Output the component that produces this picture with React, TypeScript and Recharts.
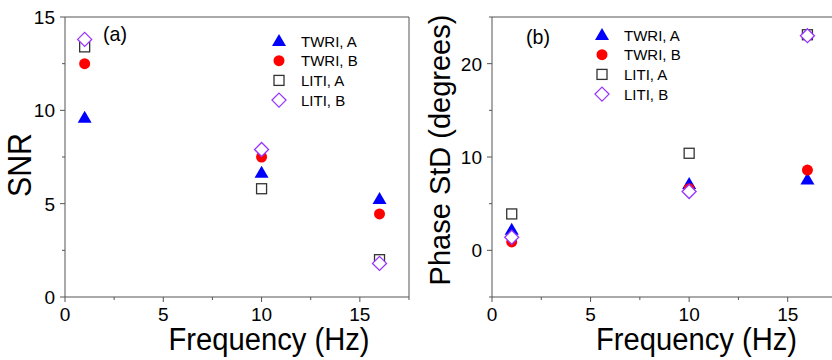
import { ScatterChart, Scatter, XAxis, YAxis, Label, Legend } from 'recharts';

const FONT = '"Liberation Sans", Arial, sans-serif';
const AXIS = '#555';

// measured frequencies (Hz)
const freqs = [1, 10, 16];

// panel (a): SNR
const snrTwriA = [9.6, 6.65, 5.25];
const snrTwriB = [12.5, 7.5, 4.45];
const snrLitiA = [13.4, 5.8, 2.0];
const snrLitiB = [13.8, 7.9, 1.8];

// panel (b): phase standard deviation (degrees)
const phaseTwriA = [2.2, 7.1, 7.6];
const phaseTwriB = [0.9, 6.6, 8.6];
const phaseLitiA = [3.9, 10.4, 23.1];
const phaseLitiB = [1.4, 6.3, 23.0];

const seriesNames = ['TWRI, A', 'TWRI, B', 'LITI, A', 'LITI, B'];

const freqTicks = [0, 2.5, 5, 7.5, 10, 12.5, 15, 17.5];
const freqLabels = [0, 5, 10, 15];
const snrTicks = [0, 2.5, 5, 7.5, 10, 12.5, 15];
const snrLabels = [0, 5, 10, 15];
const phaseTicks = [-5, 0, 5, 10, 15, 20, 25];
const phaseLabels = [0, 10, 20];

const toPoints = (ys: number[]) => freqs.map((f, i) => ({ f, v: ys[i] }));

// marker shapes
const Triangle = ({ cx, cy }: any) => (
    <polygon points={`${cx},${cy - 7} ${cx - 7},${cy + 5} ${cx + 7},${cy + 5}`} fill="#0000ff" />
);
const Dot = ({ cx, cy }: any) => <circle cx={cx} cy={cy} r={5.5} fill="#ff0000" />;
const Square = ({ cx, cy }: any) => (
    <rect x={cx - 5} y={cy - 5} width={10} height={10} fill="#fff" stroke="#333" strokeWidth={1.3} />
);
const Diamond = ({ cx, cy }: any) => (
    <polygon
        points={`${cx},${cy - 7} ${cx + 7},${cy} ${cx},${cy + 7} ${cx - 7},${cy}`}
        fill="#fff"
        stroke="#9933ff"
        strokeWidth={1.3}
    />
);
const shapes = [Triangle, Dot, Square, Diamond];

// tick drawers: tickSize/tickMargin are 0 so (x, y) sits on the axis line
const XTick = ({ x, y, payload, labels }: any) => {
    const major = payload.value % 5 === 0;
    return (
        <g>
            <line x1={x} y1={y} x2={x} y2={y + (major ? 5 : 3)} stroke={AXIS} />
            {labels && labels.includes(payload.value) && (
                <text x={x} y={y + 24} textAnchor="middle" fontSize={19} fontFamily={FONT} fill="#000">
                    {payload.value}
                </text>
            )}
        </g>
    );
};

const YTick = ({ x, y, payload, labels, majorStep }: any) => {
    const major = payload.value % majorStep === 0;
    return (
        <g>
            <line x1={x} y1={y} x2={x - (major ? 5 : 3)} y2={y} stroke={AXIS} />
            {labels && labels.includes(payload.value) && (
                <text x={x - 10} y={y + 7} textAnchor="end" fontSize={19} fontFamily={FONT} fill="#000">
                    {payload.value}
                </text>
            )}
        </g>
    );
};

const LegendBox = () => (
    <svg width={130} height={82}>
        {seriesNames.map((name, i) => {
            const Shape = shapes[i];
            const cy = 11 + i * 19.7;
            return (
                <g key={name}>
                    <Shape cx={14} cy={cy} />
                    <text x={36} y={cy + 5.5} fontSize={15} fontFamily={FONT} fill="#000">
                        {name}
                    </text>
                </g>
            );
        })}
    </svg>
);

type PanelProps = {
    series: number[][];
    yDomain: [number, number];
    yTicks: number[];
    yLabels: number[];
    yMajor: number;
    yTitle: string;
    yTitleX: number;
    yTitleDy: number;
    yTitleSize: number;
    yTitleLength?: number;
    tag: string;
    tagX: number;
    tagY: number;
    legendX: number;
    legendY: number;
    left: number;
    width: number;
    yAxisWidth: number;
    rightWidth: number;
};

function Panel(p: PanelProps) {
    return (
        <div style={{ position: 'absolute', left: p.left, top: 0 }}>
            <ScatterChart
                width={p.width}
                height={360}
                margin={{ top: 0, right: 0, bottom: 0, left: 0 }}
            >
                <XAxis
                    dataKey="f"
                    type="number"
                    domain={[0, 17.5]}
                    ticks={freqTicks}
                    interval={0}
                    height={63}
                    tickSize={0}
                    tickMargin={0}
                    stroke={AXIS}
                    tick={(t: any) => <XTick {...t} labels={freqLabels} />}
                >
                    <Label
                        content={({ viewBox }: any) => (
                            <text
                                x={viewBox.x + viewBox.width / 2 + 32}
                                y={350}
                                textAnchor="middle"
                                fontSize={31}
                                textLength={201}
                                lengthAdjust="spacingAndGlyphs"
                                fontFamily={FONT}
                                fill="#000"
                            >
                                Frequency (Hz)
                            </text>
                        )}
                    />
                </XAxis>
                <XAxis
                    xAxisId="top"
                    orientation="top"
                    type="number"
                    domain={[0, 17.5]}
                    ticks={freqTicks}
                    interval={0}
                    height={17}
                    tickSize={0}
                    tickMargin={0}
                    stroke={AXIS}
                    tick={(t: any) => <XTick {...t} labels={null} />}
                />
                <YAxis
                    dataKey="v"
                    type="number"
                    domain={p.yDomain}
                    ticks={p.yTicks}
                    interval={0}
                    width={p.yAxisWidth}
                    tickSize={0}
                    tickMargin={0}
                    stroke={AXIS}
                    tick={(t: any) => <YTick {...t} labels={p.yLabels} majorStep={p.yMajor} />}
                >
                    <Label
                        content={({ viewBox }: any) => {
                            const cy = viewBox.y + viewBox.height / 2 + p.yTitleDy;
                            return (
                                <text
                                    x={p.yTitleX}
                                    y={cy}
                                    transform={`rotate(-90, ${p.yTitleX}, ${cy})`}
                                    textAnchor="middle"
                                    dominantBaseline="central"
                                    fontSize={p.yTitleSize}
                                    textLength={p.yTitleLength}
                                    lengthAdjust={p.yTitleLength ? 'spacingAndGlyphs' : undefined}
                                    fontFamily={FONT}
                                    fill="#000"
                                >
                                    {p.yTitle}
                                </text>
                            );
                        }}
                    />
                </YAxis>
                <YAxis
                    yAxisId="right"
                    orientation="right"
                    type="number"
                    domain={p.yDomain}
                    ticks={p.yTicks}
                    interval={0}
                    width={p.rightWidth}
                    tickSize={0}
                    tickMargin={0}
                    stroke={AXIS}
                    tick={(t: any) => <YTick {...t} labels={null} majorStep={p.yMajor} />}
                />
                <Legend
                    layout="vertical"
                    align="center"
                    verticalAlign="middle"
                    wrapperStyle={{ left: p.legendX, top: p.legendY, width: 130 }}
                    content={() => <LegendBox />}
                />
                {p.series.map((ys, i) => {
                    const Shape = shapes[i];
                    return (
                        <Scatter
                            key={seriesNames[i]}
                            name={seriesNames[i]}
                            data={toPoints(ys)}
                            isAnimationActive={false}
                            shape={(s: any) => <Shape cx={s.cx} cy={s.cy} />}
                        />
                    );
                })}
            </ScatterChart>
            <svg
                width={p.width}
                height={60}
                style={{ position: 'absolute', left: 0, top: 0, pointerEvents: 'none' }}
            >
                <text
                    x={p.tagX}
                    y={p.tagY + 6}
                    textAnchor="middle"
                    fontSize={21}
                    textLength={24}
                    lengthAdjust="spacingAndGlyphs"
                    fontFamily={FONT}
                    fill="#000"
                >
                    {p.tag}
                </text>
            </svg>
        </div>
    );
}

export default function App() {
    return (
        <div
            style={{
                position: 'absolute',
                left: 0,
                top: 0,
                width: 832,
                height: 360,
                overflow: 'hidden',
                background: '#fff',
            }}
        >
            <Panel
                series={[snrTwriA, snrTwriB, snrLitiA, snrLitiB]}
                yDomain={[0, 15]}
                yTicks={snrTicks}
                yLabels={snrLabels}
                yMajor={5}
                yTitle="SNR"
                yTitleX={19}
                yTitleDy={8}
                yTitleSize={34}
                yTitleLength={64}
                tag="(a)"
                tagX={115}
                tagY={35}
                legendX={265}
                legendY={30}
                left={0}
                width={416}
                yAxisWidth={65}
                rightWidth={7}
            />
            <Panel
                series={[phaseTwriA, phaseTwriB, phaseLitiA, phaseLitiB]}
                yDomain={[-5, 25]}
                yTicks={phaseTicks}
                yLabels={phaseLabels}
                yMajor={10}
                yTitle="Phase StD (degrees)"
                yTitleX={24}
                yTitleDy={-7}
                yTitleSize={29}
                tag="(b)"
                tagX={122}
                tagY={38}
                legendX={172}
                legendY={24}
                left={416}
                width={430}
                yAxisWidth={76}
                rightWidth={9}
            />
        </div>
    );
}
